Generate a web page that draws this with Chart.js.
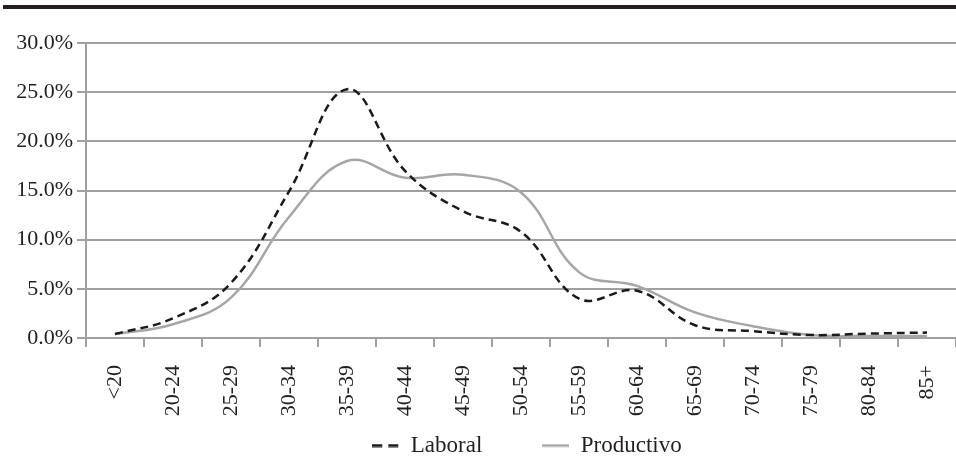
<!DOCTYPE html>
<html>
<head>
<meta charset="utf-8">
<script src="https://cdn.jsdelivr.net/npm/chart.js@4.4.1/dist/chart.umd.min.js"></script>
<style>
html, body { margin: 0; padding: 0; background: #fff; }
#wrap { position: relative; width: 956px; height: 459px; }
#rule { position: absolute; left: 3px; right: 0; top: 5px; height: 4px; background: #231f20; }
canvas { display: block; }
</style>
</head>
<body>
<div id="wrap"><div id="rule"></div><canvas id="c" width="956" height="459"></canvas></div>
<script>
// age groups and share of each group (%)
const ages = ['<20', '20-24', '25-29', '30-34', '35-39', '40-44', '45-49', '50-54', '55-59', '60-64', '65-69', '70-74', '75-79', '80-84', '85+'];
const laboral = [0.4, 2.0, 5.6, 14.9, 25.3, 17.0, 12.9, 10.8, 4.0, 4.8, 1.3, 0.7, 0.3, 0.45, 0.55];
const productivo = [0.4, 1.4, 4.1, 12.3, 18.0, 16.3, 16.6, 14.8, 6.7, 5.3, 2.6, 1.2, 0.3, 0.2, 0.2];
const yMin = 0, yMax = 30, yStep = 5;

const INK = '#231f20', LINE = '#a0a0a0', BLACK = '#1a1a1a', GREY = '#a6a6a6';

Chart.defaults.font.family = '"Liberation Serif", "Times New Roman", serif';
Chart.defaults.font.size = 22;
Chart.defaults.color = INK;

// legend icons (chart.js drops the dash when usePointStyle is on)
function icon(color, width, dash) {
    const c = document.createElement('canvas');
    c.width = 27; c.height = 4;
    const g = c.getContext('2d');
    g.strokeStyle = color; g.lineWidth = width; g.setLineDash(dash);
    g.beginPath(); g.moveTo(0, 2); g.lineTo(27, 2); g.stroke();
    return c;
}

// legend a bit lower/right, and let the x labels run below the (thin) x box without clipping
const tweak = {
    id: 'tweak',
    afterLayout(chart) {
        const l = chart.legend;
        if (l) { l.top += 8; l.bottom += 8; l.left += 6; l.right += 6; }
        chart.scales.x.bottom = chart.height;
    },
};

new Chart(document.getElementById('c'), {
    type: 'line',
    data: {
        labels: ages,
        datasets: [
            { label: 'Laboral', data: laboral, borderColor: BLACK, borderWidth: 2.5, borderDash: [8, 5], tension: 0.4, pointRadius: 0, fill: false, pointStyle: icon(BLACK, 3, [10, 6]) },
            { label: 'Productivo', data: productivo, borderColor: GREY, borderWidth: 2.5, tension: 0.4, pointRadius: 0, fill: false, pointStyle: icon(GREY, 2.5, []) },
        ],
    },
    options: {
        responsive: false,
        animation: false,
        layout: { padding: { top: 43, left: 0, right: 0, bottom: 0 } },
        plugins: {
            legend: {
                position: 'bottom', fullSize: false,
                labels: { usePointStyle: true, pointStyleWidth: 27, padding: 60, color: INK, font: { size: 23 } },
            },
            tooltip: { enabled: false },
        },
        scales: {
            x: {
                offset: true,
                grid: { offset: true, drawOnChartArea: false, tickLength: 9, color: LINE, lineWidth: 2 },
                border: { color: LINE, width: 2 },
                ticks: { minRotation: 90, maxRotation: 90, padding: 18, autoSkip: false },
                afterFit: s => { s.height = 28; s.paddingLeft = 0; s.paddingRight = 0; },
            },
            y: {
                min: yMin, max: yMax,
                grid: { tickLength: 9, color: LINE, lineWidth: 2 },
                border: { color: LINE, width: 2 },
                ticks: { stepSize: yStep, padding: 4, callback: v => v.toFixed(1) + '%' },
                afterFit: s => { s.width = 86; },
            },
        },
    },
    plugins: [tweak],
});
</script>
</body>
</html>
